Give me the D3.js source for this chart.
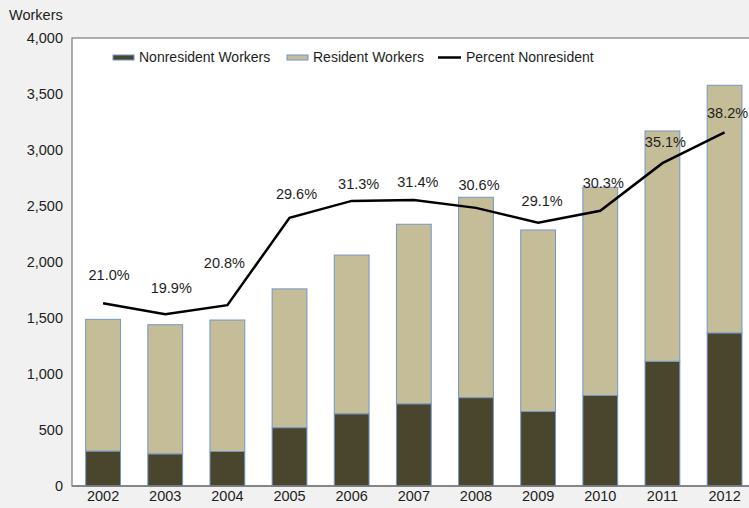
<!DOCTYPE html>
<html>
<head>
<meta charset="utf-8">
<script src="https://cdn.jsdelivr.net/npm/d3@7"></script>
<style>
  body { margin: 0; background: #f0f1f0; }
  svg { display: block; font-family: "Liberation Sans", Arial, sans-serif; }
</style>
</head>
<body>
<svg width="749" height="508"></svg>
<script>
const years = ["2002", "2003", "2004", "2005", "2006", "2007", "2008", "2009", "2010", "2011", "2012"];
const nonresident = [312, 287, 308, 521, 645, 734, 789, 665, 808, 1113, 1367];
const resident = [1176, 1153, 1174, 1239, 1417, 1603, 1789, 1621, 1859, 2057, 2211];
const percentNonresident = [21.0, 19.9, 20.8, 29.6, 31.3, 31.4, 30.6, 29.1, 30.3, 35.1, 38.2];
const yTicks = [0, 500, 1000, 1500, 2000, 2500, 3000, 3500, 4000];

const svg = d3.select("svg");

const plotLeft = 72, plotTop = 38, plotBottom = 486;
const step = 62.15;

// band scale for years, plot continues a little past the right edge
const x = d3.scaleBand()
  .domain(years)
  .range([plotLeft, plotLeft + years.length * step])
  .paddingInner(0.44)
  .paddingOuter(0.22);

const y = d3.scaleLinear().domain([0, 4000]).range([plotBottom, plotTop]);
// hidden secondary axis for the percent line
const yPct = d3.scaleLinear().domain([2.6, 47.7]).range([plotBottom, plotTop]);

// plot area
svg.append("rect")
  .attr("x", plotLeft)
  .attr("y", plotTop)
  .attr("width", years.length * step + 10)
  .attr("height", plotBottom - plotTop)
  .style("fill", "#fff")
  .style("stroke", "#7a7a7a")
  .style("stroke-width", 1.2);

// y axis labels
svg.append("g")
  .attr("transform", `translate(${plotLeft},0)`)
  .call(d3.axisLeft(y).tickValues(yTicks).tickSize(0).tickPadding(9).tickFormat(d3.format(",")))
  .call(g => g.select(".domain").remove())
  .selectAll("text")
  .style("font-size", "14.5px")
  .style("fill", "#1e1e1e")
  .style("font-family", "Liberation Sans, Arial, sans-serif");

svg.append("text")
  .attr("x", 9)
  .attr("y", 20)
  .text("Workers")
  .style("font-size", "14.5px")
  .style("fill", "#1e1e1e");

// stacked bars
const stacked = years.map((yr, i) => ({ year: yr, non: nonresident[i], res: resident[i] }));

svg.selectAll("rect.non")
  .data(stacked)
  .enter().append("rect")
  .attr("class", "non")
  .attr("x", d => x(d.year))
  .attr("width", x.bandwidth())
  .attr("y", d => y(d.non))
  .attr("height", d => y(0) - y(d.non))
  .style("fill", "#4a452d")
  .style("stroke", "#7396c6")
  .style("stroke-width", 1);

svg.selectAll("rect.res")
  .data(stacked)
  .enter().append("rect")
  .attr("class", "res")
  .attr("x", d => x(d.year))
  .attr("width", x.bandwidth())
  .attr("y", d => y(d.non + d.res))
  .attr("height", d => y(d.non) - y(d.non + d.res))
  .style("fill", "#c4bd97")
  .style("stroke", "#7396c6")
  .style("stroke-width", 1);

// bottom axis
svg.append("line")
  .attr("x1", plotLeft).attr("x2", 749)
  .attr("y1", plotBottom).attr("y2", plotBottom)
  .style("stroke", "#7a7a7a")
  .style("stroke-width", 1.5);

svg.append("g")
  .attr("transform", `translate(0,${plotBottom})`)
  .call(d3.axisBottom(x).tickSize(0).tickPadding(5))
  .call(g => g.select(".domain").remove())
  .selectAll("text")
  .style("font-size", "14.5px")
  .style("fill", "#1e1e1e")
  .style("font-family", "Liberation Sans, Arial, sans-serif");

// percent line
const line = d3.line()
  .x((d, i) => x(years[i]) + x.bandwidth() / 2)
  .y(d => yPct(d));

svg.append("path")
  .datum(percentNonresident)
  .attr("d", line)
  .style("fill", "none")
  .style("stroke", "#000")
  .style("stroke-width", 2.5);

// label nudges (Excel placed these by hand)
const labelDx = [6, 6, -3, 7, 7, 4, 3, 4, 3, 3, 3];
const labelDy = [28, 26, 42, 24, 17, 18, 23, 22, 28, 21, 19];

svg.selectAll("text.pct")
  .data(percentNonresident)
  .enter().append("text")
  .attr("class", "pct")
  .attr("x", (d, i) => x(years[i]) + x.bandwidth() / 2 + labelDx[i])
  .attr("y", (d, i) => yPct(d) - labelDy[i])
  .attr("dy", "0.35em")
  .attr("text-anchor", "middle")
  .text(d => d.toFixed(1) + "%")
  .style("font-size", "14.5px")
  .style("fill", "#1e1e1e");

// legend
const legend = [
  { label: "Nonresident Workers", type: "box", fill: "#4a452d", x: 113 },
  { label: "Resident Workers", type: "box", fill: "#c4bd97", x: 287 },
  { label: "Percent Nonresident", type: "line", x: 438 }
];

const lg = svg.selectAll("g.legend")
  .data(legend)
  .enter().append("g")
  .attr("class", "legend")
  .attr("transform", d => `translate(${d.x},57.5)`);

lg.filter(d => d.type === "box").append("rect")
  .attr("x", 0).attr("y", -2.5)
  .attr("width", 21).attr("height", 5)
  .style("fill", d => d.fill)
  .style("stroke", "#7396c6")
  .style("stroke-width", 1);

lg.filter(d => d.type === "line").append("line")
  .attr("x1", 0).attr("x2", 23)
  .attr("y1", 0).attr("y2", 0)
  .style("stroke", "#000")
  .style("stroke-width", 2.5);

lg.append("text")
  .attr("x", d => d.type === "line" ? 28 : 26)
  .attr("y", 0)
  .attr("dy", "0.35em")
  .text(d => d.label)
  .style("font-size", "14px")
  .style("fill", "#1e1e1e");
</script>
</body>
</html>
